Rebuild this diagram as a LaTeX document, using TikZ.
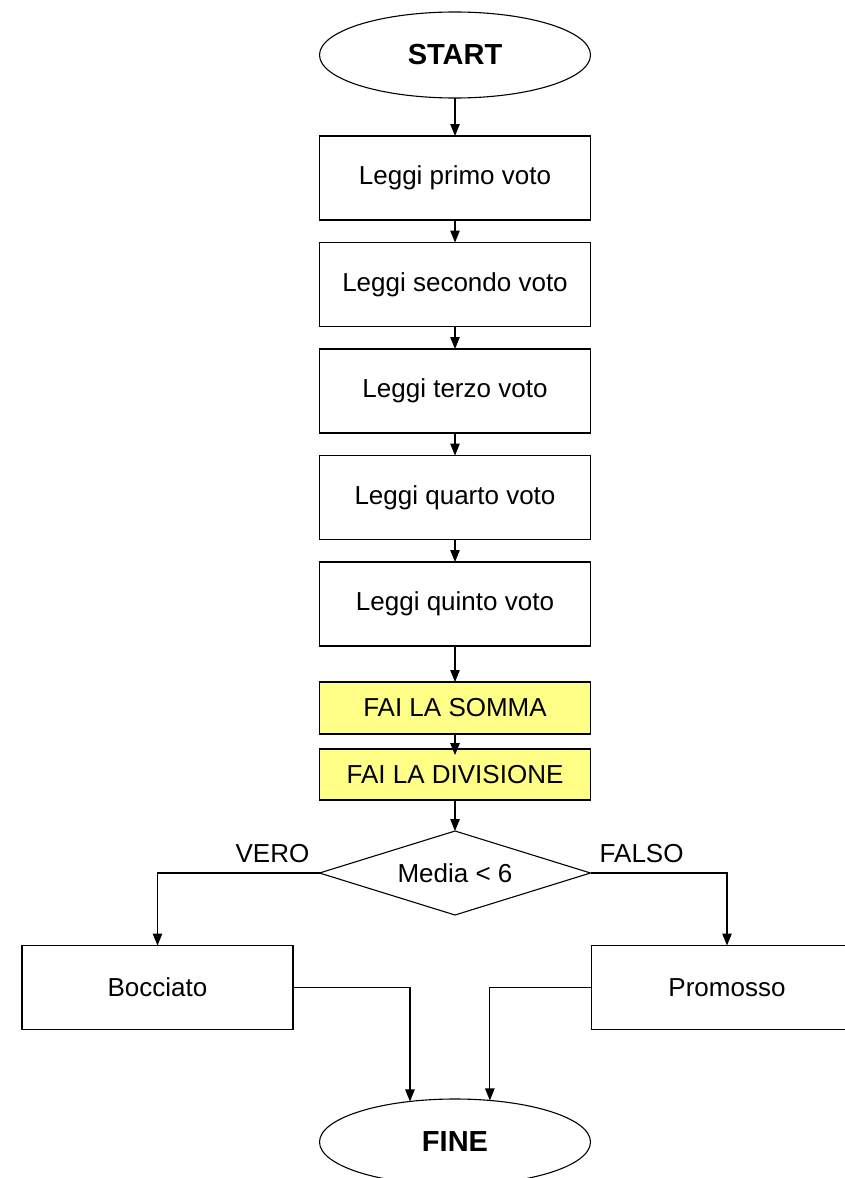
\documentclass[tikz,border=0pt]{standalone}
\usepackage{fontspec}
\setmainfont{Liberation Sans}
\usetikzlibrary{shapes.geometric, arrows.meta, positioning}

\begin{document}
\begin{tikzpicture}[
    x=1pt, y=-1pt,
    node distance=22.5pt,
    every node/.style={font=\fontsize{26}{31}\selectfont},
    box/.style={rectangle, draw, line width=1.1pt, outer sep=0pt, minimum width=271pt, minimum height=84pt, align=center},
    sumbox/.style={box, fill=yellowbox, minimum height=52pt},
    termbox/.style={ellipse, draw, line width=1.1pt, outer sep=0pt, inner sep=0pt, minimum width=271pt, minimum height=86pt, font=\fontsize{29}{34}\selectfont\bfseries},
    decbox/.style={diamond, draw, line width=1.1pt, outer sep=0pt, inner sep=0pt, aspect=3.2, minimum width=271pt, minimum height=84pt},
    lbl/.style={inner sep=0pt},
    arrow/.style={-{Triangle[length=12pt, width=9.5pt]}, line width=1.1pt}
]
\definecolor{yellowbox}{HTML}{FFFF88}
\useasboundingbox (0,0) rectangle (844,1178);

\node[termbox] (start) at (455,55) {START};
\node[box, below=38pt of start] (voto1) {Leggi primo voto};
\node[box, below=of voto1] (voto2) {Leggi secondo voto};
\node[box, below=of voto2] (voto3) {Leggi terzo voto};
\node[box, below=of voto3] (voto4) {Leggi quarto voto};
\node[box, below=of voto4] (voto5) {Leggi quinto voto};
\node[sumbox, below=36pt of voto5] (somma) {FAI LA SOMMA};
\node[sumbox, below=15pt of somma, minimum height=51pt] (divisione) {FAI LA DIVISIONE};
\node[decbox, below=31pt of divisione] (media) {Media < 6};

\node[lbl, anchor=south east] (vero) at ([xshift=-10pt, yshift=10pt]media.west) {VERO};
\node[lbl, anchor=south west] (falso) at ([xshift=9pt, yshift=10pt]media.east) {FALSO};

\node[box, below=30.5pt of media, xshift=-297.5pt] (bocciato) {Bocciato};
\node[box, below=30.5pt of media, xshift=272pt] (promosso) {Promosso};
\node[termbox, below=70pt of media, yshift=-114pt] (fine) {FINE};

\draw[arrow] (start) -- (voto1);
\draw[arrow] (voto1) -- (voto2);
\draw[arrow] (voto2) -- (voto3);
\draw[arrow] (voto3) -- (voto4);
\draw[arrow] (voto4) -- (voto5);
\draw[arrow] (voto5) -- (somma);
\draw[arrow] (somma.south) -- ([yshift=-6pt]divisione.north);
\draw[arrow] (divisione) -- (media);

\draw[arrow] (media.west) -| (bocciato.north);
\draw[arrow] (media.east) -| (promosso.north);
\draw[arrow] (bocciato.east) -| (fine.138);
\draw[arrow] (promosso.west) -| (fine.50);

\end{tikzpicture}
\end{document}
